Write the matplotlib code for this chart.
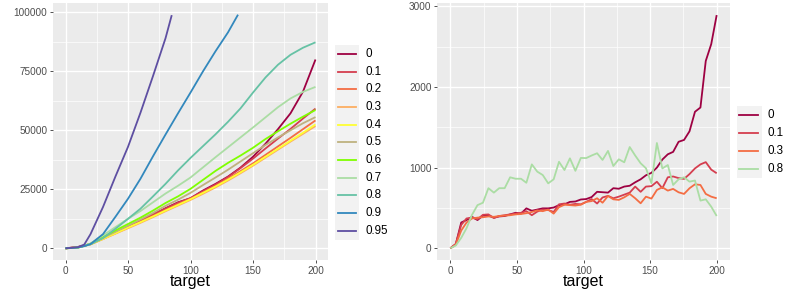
import matplotlib
matplotlib.use("Agg")
import matplotlib.pyplot as plt
from matplotlib.lines import Line2D
from matplotlib.patches import Rectangle

plt.rcParams['font.family'] = ['Liberation Sans', 'DejaVu Sans']

# ---------------- Left panel data ----------------
x_left = [0, 10, 20, 30, 40, 50, 60, 70, 80, 90, 100, 110, 120, 130, 140, 150, 160, 170, 180, 190, 200]
x_095 = [0, 10, 15, 20, 30, 40, 50, 60, 70, 80, 85]
x_090 = [0, 10, 15, 20, 30, 40, 50, 60, 70, 80, 90, 100, 110, 120, 130, 138]

left_labels = ['0', '0.1', '0.2', '0.3', '0.4', '0.5', '0.6', '0.7', '0.8', '0.9', '0.95']
left_colors = ['#9E0142', '#D53E4F', '#F46D43', '#FDAE61', '#FFFF33', '#BFB27F',
               '#7FFF00', '#ABDDA4', '#66C2A5', '#3288BD', '#5E4FA2']

y_00 = [0, 600, 1800, 4200, 6700, 9200, 11700, 14300, 17000, 19500, 21200, 24500, 27300, 30400, 34200, 38800, 44300, 50500, 57200, 66400, 80000]
y_01 = [0, 500, 1800, 4200, 6700, 9200, 11700, 14300, 16800, 19300, 21300, 24200, 27000, 30200, 34000, 38000, 42300, 46500, 50600, 55000, 59200]
y_02 = [0, 400, 1700, 4000, 6400, 8800, 11200, 13700, 16200, 18700, 21000, 23700, 26400, 29500, 32700, 36000, 39600, 43200, 46800, 50500, 54200]
y_03 = [0, 400, 1700, 3900, 6200, 8500, 10800, 13200, 15700, 18100, 20500, 23100, 25800, 28700, 31800, 35000, 38400, 41800, 45200, 48500, 51800]
y_04 = [0, 400, 1700, 4000, 6400, 8800, 11100, 13500, 16000, 18400, 20800, 23500, 26200, 29100, 32200, 35400, 38800, 42200, 45600, 49000, 52500]
y_05 = [0, 300, 1800, 4400, 7000, 9600, 12200, 15000, 18000, 20600, 23500, 26800, 30000, 33300, 36800, 40300, 43800, 47000, 50000, 53000, 55600]
y_06 = [0, 300, 2000, 4800, 7600, 10300, 13000, 16000, 19200, 22000, 25200, 29000, 32800, 36200, 39300, 42600, 46300, 49600, 52800, 55800, 58600]
y_07 = [0, 300, 2000, 5500, 9000, 12500, 15800, 19500, 23200, 26500, 30000, 34300, 38600, 42800, 47000, 51200, 55500, 59800, 63500, 66300, 68400]
y_08 = [0, 300, 1700, 4300, 8300, 12500, 16800, 22000, 27300, 33000, 38300, 43300, 48300, 53600, 59300, 66000, 72400, 77800, 82000, 85000, 87300]
y_09 = [0, 400, 900, 1800, 6000, 13400, 21000, 29500, 39000, 48200, 57200, 66000, 75000, 83500, 91500, 99000]
y_095 = [0, 500, 1600, 6000, 17500, 30500, 43000, 57500, 73000, 89000, 98800]

left_x = [x_left] * 9 + [x_090, x_095]
left_y = [y_00, y_01, y_02, y_03, y_04, y_05, y_06, y_07, y_08, y_09, y_095]

# ---------------- Right panel data ----------------
x_right = [0, 4.1, 8.2, 12.2, 16.3, 20.4, 24.5, 28.6, 32.7, 36.7, 40.8, 44.9, 49.0, 53.1,
           57.1, 61.2, 65.3, 69.4, 73.5, 77.6, 81.6, 85.7, 89.8, 93.9, 98.0, 102.0, 106.1,
           110.2, 114.3, 118.4, 122.4, 126.5, 130.6, 134.7, 138.8, 142.9, 146.9, 151.0,
           155.1, 159.2, 163.3, 167.3, 171.4, 175.5, 179.6, 183.7, 187.8, 191.8, 195.9, 200]

right_labels = ['0', '0.1', '0.3', '0.8']
right_colors = ['#9E0142', '#D53E4F', '#F46D43', '#ABDDA4']

r_00 = [0, 50, 320, 350, 390, 350, 405, 405, 380, 395, 400, 420, 440, 430, 495, 465, 480, 495,
        495, 505, 535, 545, 575, 580, 605, 610, 635, 700, 695, 690, 745, 738, 765, 775, 818,
        855, 905, 935, 1000, 1100, 1165, 1195, 1320, 1343, 1450, 1692, 1745, 2322, 2530, 2890]
r_01 = [0, 55, 290, 370, 380, 360, 415, 420, 375, 400, 410, 420, 430, 440, 460, 410, 455, 480,
        475, 450, 545, 555, 540, 550, 545, 575, 610, 555, 630, 650, 620, 640, 665, 690, 765,
        700, 765, 770, 825, 745, 880, 890, 870, 860, 920, 990, 1040, 1068, 975, 930]
r_03 = [0, 45, 220, 320, 370, 380, 385, 395, 390, 400, 405, 410, 420, 425, 435, 450, 470, 460,
        480, 430, 510, 540, 535, 530, 540, 575, 585, 620, 565, 648, 607, 600, 632, 674, 620,
        558, 640, 616, 723, 756, 715, 736, 694, 674, 744, 793, 785, 674, 640, 620]
r_08 = [0, 35, 130, 250, 415, 535, 565, 745, 690, 745, 745, 880, 862, 862, 812, 1040, 950, 908,
        805, 855, 1072, 970, 1115, 960, 1120, 1118, 1150, 1178, 1095, 1207, 1020, 1103, 1066,
        1255, 1150, 1054, 992, 806, 1305, 990, 1032, 785, 855, 880, 826, 840, 591, 607, 516, 400]
right_y = [r_00, r_01, r_03, r_08]

# ---------------- Figure ----------------
W, H = 789, 290
fig = plt.figure(figsize=(W / 100, H / 100), dpi=100)
fig.patch.set_facecolor('white')


def fbox(x0, y0, x1, y1):
    return [x0 / W, 1 - y1 / H, (x1 - x0) / W, (y1 - y0) / H]


def style_axes(ax, xmajor, ymajor, xminor, yminor, ylabels):
    ax.set_facecolor('#EBEBEB')
    for s in ax.spines.values():
        s.set_visible(False)
    ax.set_xticks(xmajor)
    ax.set_yticks(ymajor)
    ax.set_yticklabels(ylabels)
    ax.set_xticks(xminor, minor=True)
    ax.set_yticks(yminor, minor=True)
    ax.grid(which='major', color='white', linewidth=1.0)
    ax.grid(which='minor', color='white', linewidth=0.5)
    ax.set_axisbelow(True)
    ax.tick_params(which='major', length=2.5, width=0.6, color='#333333',
                   labelsize=7.2, labelcolor='#4D4D4D', pad=1.5)
    ax.tick_params(which='minor', length=0)
    ax.set_xlabel('target', fontsize=11.5, labelpad=-1.0, color='black')


# Left axes
axL = fig.add_axes(fbox(53, 3, 328, 260))
for xs, ys, c in zip(left_x, left_y, left_colors):
    axL.plot(xs, ys, color=c, linewidth=1.3, solid_capstyle='butt')
axL.set_xlim(-10, 210)
axL.set_ylim(-4950, 103950)
style_axes(axL, [0, 50, 100, 150, 200], [0, 25000, 50000, 75000, 100000],
           [25, 75, 125, 175], [12500, 37500, 62500, 87500],
           ['0', '25000', '50000', '75000', '100000'])

# Right axes
axR = fig.add_axes(fbox(437, 3, 730, 260))
for ys, c in zip(right_y, right_colors):
    axR.plot(x_right, ys, color=c, linewidth=1.3, solid_capstyle='butt')
axR.set_xlim(-10, 210)
axR.set_ylim(-145, 3040)
style_axes(axR, [0, 50, 100, 150, 200], [0, 1000, 2000, 3000],
           [25, 75, 125, 175], [500, 1500, 2500],
           ['0', '1000', '2000', '3000'])


def draw_legend(labels, colors, kx0, kx1, lx0, lx1, top, step, tx):
    for i, (lab, c) in enumerate(zip(labels, colors)):
        y0 = top + i * step
        y1 = y0 + step
        fig.patches.append(Rectangle((kx0 / W, 1 - y1 / H), (kx1 - kx0) / W, step / H,
                                     transform=fig.transFigure, facecolor='#F2F2F2',
                                     edgecolor='none'))
        yc = 1 - (y0 + step / 2) / H
        fig.lines.append(Line2D([lx0 / W, lx1 / W], [yc, yc], transform=fig.transFigure,
                                color=c, linewidth=1.3))
        fig.text(tx / W, yc, lab, fontsize=8.4, ha='left', va='center', color='black')


draw_legend(left_labels, left_colors, 335, 358.5, 337.5, 356, 45.2, 17.67, 366)
draw_legend(right_labels, right_colors, 737, 761.5, 739, 758, 106, 18, 768)

fig.savefig('out.png', dpi=100, facecolor='white')
